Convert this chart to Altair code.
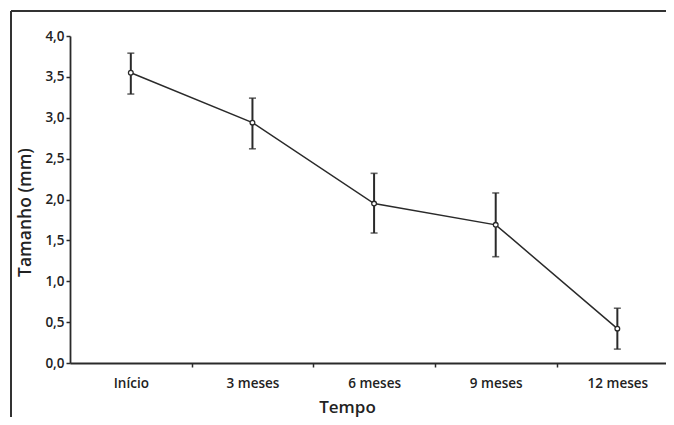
import json
import altair as alt
import pandas as pd

categories = ["Início", "3 meses", "6 meses", "9 meses", "12 meses"]
means = [3.55, 2.94, 1.95, 1.69, 0.42]
lower = [3.29, 2.62, 1.59, 1.30, 0.17]
upper = [3.79, 3.24, 2.32, 2.08, 0.67]
y_ticks = [0, 0.5, 1, 1.5, 2, 2.5, 3, 3.5, 4]

df = pd.DataFrame({
    "idx": list(range(len(categories))),
    "cat": categories,
    "mean": means,
    "lo": lower,
    "hi": upper,
})

INK = "#2a2a2a"
FONT = "Open Sans"

x_values = [i * 0.5 for i in range(0, 2 * len(categories) - 1)]
names_js = json.dumps(categories, ensure_ascii=False)

x_scale = alt.Scale(domain=[-0.5, 4.4], nice=False, zero=False)
y_scale = alt.Scale(domain=[0, 4], nice=False, zero=True)

x_axis = alt.Axis(
    values=x_values,
    labelExpr=f"datum.value % 1 === 0 ? {names_js}[datum.value] : ''",
    tickOpacity={"condition": {"test": "datum.value % 1 === 0", "value": 0}, "value": 1},
    tickSize=4,
    tickWidth=1.5,
    tickColor=INK,
    domainColor=INK,
    domainWidth=1.8,
    labelPadding=9,
    labelFlush=False,
    labelOverlap=False,
    labelFont=FONT,
    labelFontSize=13.5,
    labelFontWeight=600,
    labelColor="#222",
    title="Tempo",
    titleFont=FONT,
    titleFontSize=17,
    titleFontWeight=600,
    titleColor="#222",
    titleX=277,
    titleY=49,
    titleAnchor="start",
    titleAlign="center",
    titleBaseline="alphabetic",
    grid=False,
)

y_axis = alt.Axis(
    values=y_ticks,
    labelExpr="replace(format(datum.value, '.1f'), '.', ',')",
    tickSize=4,
    tickWidth=1.5,
    tickColor=INK,
    domainColor=INK,
    domainWidth=1.8,
    labelPadding=2,
    labelFont=FONT,
    labelFontSize=13.5,
    labelFontWeight=600,
    labelColor="#222",
    title="Tamanho (mm)",
    titleFont=FONT,
    titleFontSize=17.5,
    titleFontWeight=600,
    titleColor="#222",
    titleX=-45,
    titleY=176,
    titleAnchor="start",
    titleAlign="center",
    titleBaseline="middle",
    titleAngle=270,
    grid=False,
)

base = alt.Chart(df)

line = base.mark_line(color=INK, strokeWidth=1.5).encode(
    x=alt.X("idx:Q", scale=x_scale, axis=x_axis),
    y=alt.Y("mean:Q", scale=y_scale, axis=y_axis),
)

bars = base.mark_rule(color=INK, strokeWidth=2).encode(
    x="idx:Q", y="lo:Q", y2="hi:Q"
)
cap_lo = base.mark_tick(color=INK, orient="horizontal", size=7, thickness=1.6).encode(
    x="idx:Q", y="lo:Q"
)
cap_hi = base.mark_tick(color=INK, orient="horizontal", size=7, thickness=1.6).encode(
    x="idx:Q", y="hi:Q"
)

points = base.mark_point(
    shape="circle", size=22, filled=True, fill="white", stroke=INK, strokeWidth=1.3, opacity=1
).encode(x="idx:Q", y="mean:Q")

frame_top = base.mark_rule(color="#333", strokeWidth=1.4).encode(
    x=alt.value(-59), x2=alt.value(596), y=alt.value(-25)
)
frame_left = base.mark_rule(color="#333", strokeWidth=1.4).encode(
    x=alt.value(-59), y=alt.value(-25), y2=alt.value(400)
)

chart = alt.layer(frame_top, frame_left, line, bars, cap_lo, cap_hi, points).properties(
    width=596,
    height=327,
    autosize=alt.AutoSizeParams(type="none"),
    padding={"left": 62, "top": 28, "right": 0, "bottom": 54},
    background="white",
).configure_view(stroke=None)

chart.save("out.html", embed_options={"renderer": "svg", "actions": False})
